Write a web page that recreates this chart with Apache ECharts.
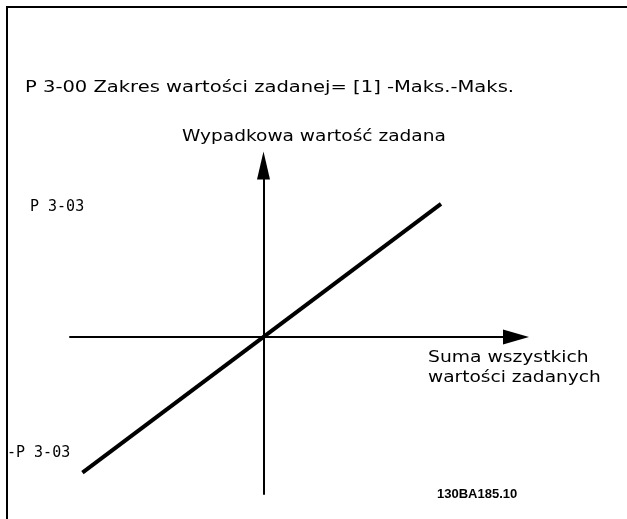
<!DOCTYPE html>
<html>
<head>
<meta charset="utf-8">
<script src="https://cdn.jsdelivr.net/npm/echarts@6/dist/echarts.min.js"></script>
<style>
  html, body { margin: 0; padding: 0; background: #fff; }
  #chart { width: 627px; height: 519px; }
</style>
</head>
<body>
<div id="chart"></div>
<script>
// Reference characteristic: resulting setpoint vs. sum of all setpoints
// (range -Max..+Max, scaled to P 3-03 = 1)
const sumOfReferences = [-1.02, 1.0];
const resultingReference = [-1.02, 1.0];

// Axis extents (in units of P 3-03)
const xRange = [-1.09, 1.4225];
const yRange = [-1.18, 1.289];

const headerText = 'P 3-00 Zakres wartości zadanej= [1] -Maks.-Maks.';
const yAxisTitle = 'Wypadkowa wartość zadana';
const xAxisTitle = ['Suma wszystkich', 'wartości zadanych'];
const maxLabel = 'P 3-03';
const minLabel = '-P 3-03';
const drawingId = '130BA185.10';

const chart = echarts.init(document.getElementById('chart'), null, { renderer: 'canvas' });

const axisCommon = {
  type: 'value',
  axisTick: { show: false },
  axisLabel: { show: false },
  splitLine: { show: false }
};

const textFont = '16px "DejaVu Sans", Verdana, sans-serif';
const cadFont = '15px "DejaVu Sans Mono", monospace';

// wide-set label text, anchored at its left/middle point
function label(text, x, y, font, stretch) {
  return {
    type: 'text', x: x, y: y, scaleX: stretch || 1,
    style: { text: text, font: font, fill: '#000', textAlign: 'left', textVerticalAlign: 'middle' }
  };
}

chart.setOption({
  animation: false,
  backgroundColor: '#ffffff',
  grid: { left: 70, right: 111, top: 165.5, bottom: 25, containLabel: false },
  xAxis: Object.assign({}, axisCommon, {
    min: xRange[0], max: xRange[1],
    axisLine: {
      show: true, onZero: true,
      symbol: ['none', 'triangle'],
      symbolSize: [15, 26],
      lineStyle: { color: '#000', width: 2 }
    }
  }),
  yAxis: Object.assign({}, axisCommon, {
    min: yRange[0], max: yRange[1],
    axisLine: {
      show: true, onZero: true,
      symbol: ['none', 'triangle'],
      symbolSize: [13, 28],
      lineStyle: { color: '#000', width: 2 }
    }
  }),
  series: [{
    type: 'line',
    data: sumOfReferences.map((x, i) => [x, resultingReference[i]]),
    showSymbol: false,
    lineStyle: { color: '#000', width: 4 },
    silent: true
  }],
  graphic: [
    { type: 'polyline', shape: { points: [[7, 519], [7, 7], [627, 7]] },
      style: { stroke: '#000', lineWidth: 2, fill: null } },
    label(headerText, 25, 88, textFont, 1.22),
    label(yAxisTitle, 182, 137, textFont, 1.16),
    label(xAxisTitle[0], 428, 358, textFont, 1.17),
    label(xAxisTitle[1], 428, 378, textFont, 1.16),
    label(maxLabel, 30, 207, cadFont),
    label(minLabel, 7, 453, cadFont),
    label(drawingId, 437, 494, 'bold 13px "Liberation Sans Narrow", "Liberation Sans", Arial, sans-serif')
  ]
});
</script>
</body>
</html>
